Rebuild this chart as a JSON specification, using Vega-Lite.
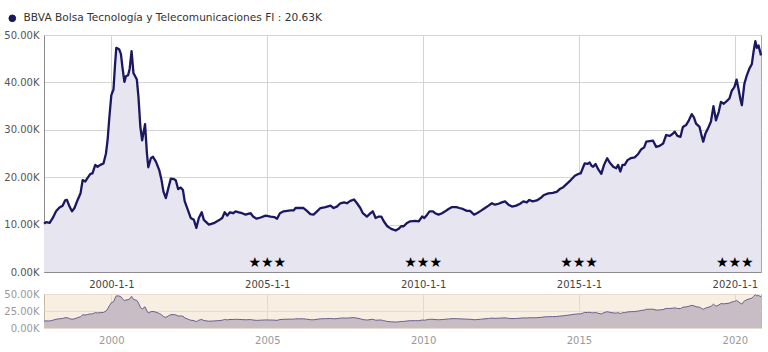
{
  "$schema": "https://vega.github.io/schema/vega-lite/v6.json",
  "autosize": {"type": "pad"},
  "padding": {"left": 3, "top": 12, "right": 5, "bottom": 5},
  "background": "white",
  "config": {
    "font": "DejaVu Sans",
    "view": {"stroke": "#a8a8a8"},
    "axis": {"labelFont": "DejaVu Sans", "labelFontSize": 10, "title": null}
  },
  "datasets": {
    "fund": [
      {"date": "1997-11-03", "value": 10200},
      {"date": "1997-11-28", "value": 10500},
      {"date": "1998-01-08", "value": 10350},
      {"date": "1998-02-14", "value": 11400},
      {"date": "1998-03-24", "value": 12800},
      {"date": "1998-05-03", "value": 13600},
      {"date": "1998-06-09", "value": 14000},
      {"date": "1998-07-08", "value": 15100},
      {"date": "1998-07-30", "value": 15200},
      {"date": "1998-08-29", "value": 13800},
      {"date": "1998-09-27", "value": 12800},
      {"date": "1998-10-26", "value": 13500},
      {"date": "1998-12-02", "value": 15200},
      {"date": "1999-01-05", "value": 16600},
      {"date": "1999-01-30", "value": 19400},
      {"date": "1999-03-02", "value": 19100},
      {"date": "1999-03-27", "value": 19800},
      {"date": "1999-04-30", "value": 20700},
      {"date": "1999-05-25", "value": 20800},
      {"date": "1999-06-27", "value": 22600},
      {"date": "1999-07-23", "value": 22200},
      {"date": "1999-08-25", "value": 22600},
      {"date": "1999-10-01", "value": 22900},
      {"date": "1999-10-30", "value": 25000},
      {"date": "1999-11-18", "value": 27800},
      {"date": "1999-12-09", "value": 32700},
      {"date": "2000-01-01", "value": 37300},
      {"date": "2000-01-26", "value": 38500},
      {"date": "2000-02-14", "value": 43900},
      {"date": "2000-02-28", "value": 47300},
      {"date": "2000-04-01", "value": 47000},
      {"date": "2000-04-22", "value": 46000},
      {"date": "2000-05-10", "value": 43200},
      {"date": "2000-06-02", "value": 40100},
      {"date": "2000-06-20", "value": 41300},
      {"date": "2000-07-15", "value": 41500},
      {"date": "2000-08-03", "value": 42900},
      {"date": "2000-08-25", "value": 46600},
      {"date": "2000-09-16", "value": 42000},
      {"date": "2000-10-26", "value": 40600},
      {"date": "2000-11-14", "value": 36900},
      {"date": "2000-12-06", "value": 30600},
      {"date": "2000-12-27", "value": 27800},
      {"date": "2001-01-30", "value": 31200},
      {"date": "2001-02-21", "value": 25000},
      {"date": "2001-03-09", "value": 22100},
      {"date": "2001-04-08", "value": 24000},
      {"date": "2001-05-03", "value": 24300},
      {"date": "2001-06-06", "value": 23300},
      {"date": "2001-07-15", "value": 21500},
      {"date": "2001-08-11", "value": 19400},
      {"date": "2001-09-02", "value": 17000},
      {"date": "2001-10-01", "value": 15600},
      {"date": "2001-10-30", "value": 17700},
      {"date": "2001-11-28", "value": 19700},
      {"date": "2002-01-05", "value": 19600},
      {"date": "2002-01-26", "value": 19300},
      {"date": "2002-02-21", "value": 17500},
      {"date": "2002-03-24", "value": 17800},
      {"date": "2002-04-19", "value": 17300},
      {"date": "2002-05-10", "value": 14900},
      {"date": "2002-06-09", "value": 13400},
      {"date": "2002-07-19", "value": 11400},
      {"date": "2002-08-25", "value": 11000},
      {"date": "2002-09-23", "value": 9300},
      {"date": "2002-10-22", "value": 11400},
      {"date": "2002-11-25", "value": 12600},
      {"date": "2002-12-20", "value": 11000},
      {"date": "2003-02-17", "value": 10000},
      {"date": "2003-04-15", "value": 10300},
      {"date": "2003-06-13", "value": 10900},
      {"date": "2003-07-23", "value": 11400},
      {"date": "2003-08-21", "value": 12600},
      {"date": "2003-09-20", "value": 11900},
      {"date": "2003-10-22", "value": 12600},
      {"date": "2003-11-28", "value": 12400},
      {"date": "2003-12-27", "value": 12800},
      {"date": "2004-02-03", "value": 12600},
      {"date": "2004-03-13", "value": 12400},
      {"date": "2004-04-22", "value": 12100},
      {"date": "2004-06-20", "value": 12400},
      {"date": "2004-07-19", "value": 11700},
      {"date": "2004-08-29", "value": 11250},
      {"date": "2004-10-15", "value": 11500},
      {"date": "2004-12-13", "value": 11900},
      {"date": "2005-02-10", "value": 11700},
      {"date": "2005-03-24", "value": 11600},
      {"date": "2005-04-26", "value": 11250},
      {"date": "2005-05-29", "value": 12400},
      {"date": "2005-07-12", "value": 12800},
      {"date": "2005-08-21", "value": 12900},
      {"date": "2005-10-01", "value": 13000},
      {"date": "2005-11-07", "value": 13000},
      {"date": "2005-11-28", "value": 13500},
      {"date": "2006-01-15", "value": 13500},
      {"date": "2006-03-02", "value": 13500},
      {"date": "2006-04-04", "value": 13000},
      {"date": "2006-05-21", "value": 12200},
      {"date": "2006-06-27", "value": 12100},
      {"date": "2006-08-07", "value": 12800},
      {"date": "2006-09-16", "value": 13500},
      {"date": "2006-11-14", "value": 13700},
      {"date": "2007-01-12", "value": 14000},
      {"date": "2007-02-17", "value": 13500},
      {"date": "2007-03-27", "value": 13800},
      {"date": "2007-05-07", "value": 14500},
      {"date": "2007-06-20", "value": 14700},
      {"date": "2007-07-23", "value": 14500},
      {"date": "2007-09-02", "value": 15000},
      {"date": "2007-10-15", "value": 15300},
      {"date": "2007-11-18", "value": 14500},
      {"date": "2007-12-27", "value": 13500},
      {"date": "2008-01-26", "value": 12400},
      {"date": "2008-03-13", "value": 11700},
      {"date": "2008-04-19", "value": 12300},
      {"date": "2008-05-21", "value": 12800},
      {"date": "2008-06-24", "value": 11400},
      {"date": "2008-07-30", "value": 11700},
      {"date": "2008-08-29", "value": 11700},
      {"date": "2008-09-27", "value": 10700},
      {"date": "2008-11-07", "value": 9650},
      {"date": "2008-12-24", "value": 9100},
      {"date": "2009-02-14", "value": 8750},
      {"date": "2009-03-20", "value": 9100},
      {"date": "2009-04-19", "value": 9650},
      {"date": "2009-05-18", "value": 9650},
      {"date": "2009-06-27", "value": 10350},
      {"date": "2009-08-03", "value": 10700},
      {"date": "2009-10-01", "value": 10800},
      {"date": "2009-11-11", "value": 10700},
      {"date": "2009-12-20", "value": 11700},
      {"date": "2010-01-15", "value": 11400},
      {"date": "2010-02-17", "value": 12100},
      {"date": "2010-03-17", "value": 12800},
      {"date": "2010-04-26", "value": 12800},
      {"date": "2010-05-21", "value": 12400},
      {"date": "2010-07-01", "value": 12100},
      {"date": "2010-08-11", "value": 12400},
      {"date": "2010-09-16", "value": 12800},
      {"date": "2010-10-26", "value": 13300},
      {"date": "2010-12-06", "value": 13700},
      {"date": "2011-01-26", "value": 13700},
      {"date": "2011-03-02", "value": 13500},
      {"date": "2011-04-11", "value": 13300},
      {"date": "2011-05-29", "value": 12900},
      {"date": "2011-07-05", "value": 12900},
      {"date": "2011-08-21", "value": 12100},
      {"date": "2011-09-23", "value": 12400},
      {"date": "2011-11-07", "value": 12900},
      {"date": "2011-12-27", "value": 13500},
      {"date": "2012-02-07", "value": 14000},
      {"date": "2012-03-17", "value": 14500},
      {"date": "2012-04-22", "value": 14200},
      {"date": "2012-06-02", "value": 14400},
      {"date": "2012-07-12", "value": 14700},
      {"date": "2012-08-18", "value": 14900},
      {"date": "2012-09-27", "value": 14200},
      {"date": "2012-11-07", "value": 13800},
      {"date": "2012-12-27", "value": 14000},
      {"date": "2013-02-10", "value": 14400},
      {"date": "2013-03-20", "value": 14900},
      {"date": "2013-04-30", "value": 14700},
      {"date": "2013-05-29", "value": 15200},
      {"date": "2013-07-08", "value": 14900},
      {"date": "2013-08-25", "value": 15100},
      {"date": "2013-10-08", "value": 15600},
      {"date": "2013-11-18", "value": 16250},
      {"date": "2014-01-08", "value": 16600},
      {"date": "2014-02-28", "value": 16700},
      {"date": "2014-04-15", "value": 16900},
      {"date": "2014-05-21", "value": 17500},
      {"date": "2014-07-01", "value": 17900},
      {"date": "2014-08-11", "value": 18600},
      {"date": "2014-09-27", "value": 19400},
      {"date": "2014-11-14", "value": 20300},
      {"date": "2014-12-24", "value": 20700},
      {"date": "2015-01-22", "value": 20800},
      {"date": "2015-02-21", "value": 22200},
      {"date": "2015-03-09", "value": 22900},
      {"date": "2015-04-11", "value": 22800},
      {"date": "2015-05-07", "value": 23100},
      {"date": "2015-05-29", "value": 22400},
      {"date": "2015-06-16", "value": 22200},
      {"date": "2015-07-15", "value": 22800},
      {"date": "2015-08-14", "value": 21700},
      {"date": "2015-09-20", "value": 20700},
      {"date": "2015-10-22", "value": 22600},
      {"date": "2015-11-28", "value": 24000},
      {"date": "2015-12-27", "value": 23100},
      {"date": "2016-02-07", "value": 22200},
      {"date": "2016-03-13", "value": 21900},
      {"date": "2016-04-04", "value": 22600},
      {"date": "2016-04-30", "value": 21200},
      {"date": "2016-05-25", "value": 22600},
      {"date": "2016-06-20", "value": 22600},
      {"date": "2016-07-23", "value": 23600},
      {"date": "2016-08-29", "value": 24000},
      {"date": "2016-10-15", "value": 24200},
      {"date": "2016-11-25", "value": 24900},
      {"date": "2017-01-01", "value": 25900},
      {"date": "2017-02-03", "value": 26300},
      {"date": "2017-02-28", "value": 27500},
      {"date": "2017-04-08", "value": 27600},
      {"date": "2017-05-18", "value": 27700},
      {"date": "2017-06-24", "value": 26400},
      {"date": "2017-08-03", "value": 26600},
      {"date": "2017-09-13", "value": 27100},
      {"date": "2017-10-19", "value": 28900},
      {"date": "2017-11-28", "value": 28700},
      {"date": "2018-01-01", "value": 29100},
      {"date": "2018-01-26", "value": 29600},
      {"date": "2018-02-28", "value": 28700},
      {"date": "2018-04-04", "value": 28500},
      {"date": "2018-05-03", "value": 30600},
      {"date": "2018-06-09", "value": 31000},
      {"date": "2018-07-12", "value": 32000},
      {"date": "2018-08-14", "value": 33300},
      {"date": "2018-09-09", "value": 32600},
      {"date": "2018-10-04", "value": 31300},
      {"date": "2018-11-14", "value": 30600},
      {"date": "2018-12-02", "value": 29200},
      {"date": "2018-12-27", "value": 27500},
      {"date": "2019-01-22", "value": 29200},
      {"date": "2019-02-21", "value": 30300},
      {"date": "2019-03-27", "value": 31700},
      {"date": "2019-04-26", "value": 35000},
      {"date": "2019-05-25", "value": 32000},
      {"date": "2019-06-27", "value": 33800},
      {"date": "2019-07-23", "value": 35900},
      {"date": "2019-08-25", "value": 35500},
      {"date": "2019-10-01", "value": 36100},
      {"date": "2019-10-30", "value": 36600},
      {"date": "2019-11-28", "value": 38300},
      {"date": "2019-12-27", "value": 39000},
      {"date": "2020-01-22", "value": 40600},
      {"date": "2020-02-17", "value": 38300},
      {"date": "2020-03-05", "value": 36600},
      {"date": "2020-03-24", "value": 35200},
      {"date": "2020-04-22", "value": 39700},
      {"date": "2020-05-21", "value": 41500},
      {"date": "2020-06-20", "value": 42900},
      {"date": "2020-07-19", "value": 43900},
      {"date": "2020-08-07", "value": 46400},
      {"date": "2020-08-29", "value": 48700},
      {"date": "2020-09-15", "value": 47300},
      {"date": "2020-10-05", "value": 47800},
      {"date": "2020-11-03", "value": 45700}
    ],
    "stars": [
      {"date": "2005-01-01", "label": "★★★"},
      {"date": "2010-01-01", "label": "★★★"},
      {"date": "2015-01-01", "label": "★★★"},
      {"date": "2020-01-01", "label": "★★★"}
    ]
  },
  "spacing": 22,
  "bounds": "flush",
  "resolve": {"scale": {"x": "independent", "y": "independent", "color": "independent"}},
  "vconcat": [
    {
      "width": 717,
      "height": 237,
      "layer": [
        {
          "data": {"name": "fund"},
          "mark": {"type": "area", "color": "#e6e5f0", "opacity": 1},
          "encoding": {
            "x": {
              "field": "date",
              "type": "temporal",
              "scale": {"domain": [{"year": 1997, "month": 11, "date": 3}, {"year": 2020, "month": 11, "date": 3}]},
              "axis": {
                "values": [{"year": 2000, "month": 1, "date": 1}, {"year": 2005, "month": 1, "date": 1}, {"year": 2010, "month": 1, "date": 1}, {"year": 2015, "month": 1, "date": 1}, {"year": 2020, "month": 1, "date": 1}],
                "format": "%Y-%-m-%-d",
                "labelColor": "#444444",
                "grid": true,
                "gridColor": "#d4d4d4",
                "domainColor": "#8c8c8c",
                "ticks": false,
                "labelPadding": 7
              }
            },
            "y": {
              "field": "value",
              "type": "quantitative",
              "scale": {"domain": [0, 50000], "nice": false},
              "axis": {
                "values": [0, 10000, 20000, 30000, 40000, 50000],
                "labelExpr": "format(datum.value/1000, '.2f') + 'K'",
                "labelColor": "#555555",
                "grid": true,
                "gridColor": "#d4d4d4",
                "domainColor": "#8c8c8c",
                "ticks": false,
                "labelPadding": 5
              }
            }
          }
        },
        {
          "data": {"name": "fund"},
          "mark": {"type": "line", "strokeWidth": 2.3, "strokeJoin": "round"},
          "encoding": {
            "x": {"field": "date", "type": "temporal"},
            "y": {"field": "value", "type": "quantitative"},
            "color": {
              "datum": "BBVA Bolsa Tecnología y Telecomunicaciones FI : 20.63K",
              "scale": {"range": ["#1b1862"]},
              "legend": {
                "title": null,
                "orient": "none",
                "legendX": -37,
                "legendY": -22,
                "padding": 0,
                "symbolType": "circle",
                "symbolSize": 45,
                "labelFont": "DejaVu Sans",
                "labelFontSize": 10.6,
                "labelColor": "#333333",
                "labelOffset": 6,
                "labelLimit": 500,
                "encode": {"symbols": {"update": {"fill": {"value": "#1b1862"}, "stroke": {"value": "#1b1862"}, "strokeWidth": {"value": 1}}}}
              }
            }
          }
        },
        {
          "data": {"name": "stars"},
          "mark": {"type": "text", "fontSize": 14, "fill": "#000000", "baseline": "middle", "align": "center", "font": "DejaVu Sans"},
          "encoding": {
            "x": {"field": "date", "type": "temporal"},
            "y": {"datum": 2000},
            "text": {"field": "label", "type": "nominal"}
          }
        }
      ]
    },
    {
      "width": 717,
      "height": 34,
      "view": {"fill": "#f8eee2", "stroke": "#c9b79c"},
      "data": {"name": "fund"},
      "encoding": {
        "x": {
          "field": "date",
          "type": "temporal",
          "scale": {"domain": [{"year": 1997, "month": 11, "date": 3}, {"year": 2020, "month": 11, "date": 3}]},
          "axis": {
            "values": [{"year": 2000, "month": 1, "date": 1}, {"year": 2005, "month": 1, "date": 1}, {"year": 2010, "month": 1, "date": 1}, {"year": 2015, "month": 1, "date": 1}, {"year": 2020, "month": 1, "date": 1}],
            "format": "%Y",
            "labelColor": "#999999",
            "grid": true,
            "gridColor": "#e3d9cc",
            "domain": false,
            "ticks": false,
            "labelPadding": 7
          }
        },
        "y": {
          "field": "value",
          "type": "quantitative",
          "scale": {"domain": [0, 50000], "nice": false},
          "axis": {
            "values": [0, 25000, 50000],
            "labelExpr": "format(datum.value/1000, '.2f') + 'K'",
            "labelColor": "#999999",
            "grid": true,
            "gridColor": "#e6dccf",
            "domain": false,
            "ticks": false,
            "labelPadding": 5
          }
        }
      },
      "layer": [
        {"mark": {"type": "area", "color": "#c8bdc5", "opacity": 1}},
        {"mark": {"type": "line", "color": "#6a5f8e", "strokeWidth": 1}}
      ]
    }
  ]
}
